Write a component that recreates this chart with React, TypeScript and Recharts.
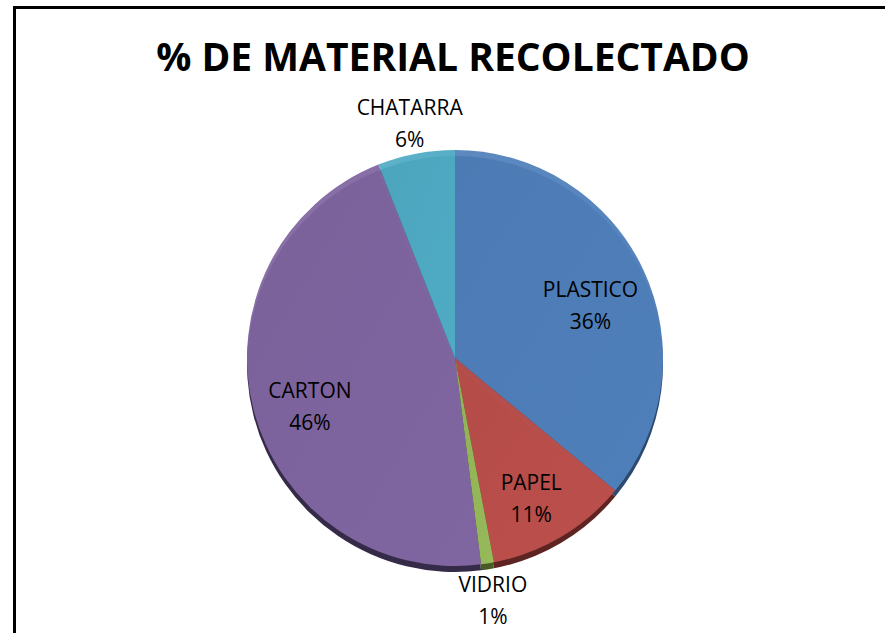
import { PieChart, Pie, Cell } from "recharts";

const materials = ["PLASTICO", "PAPEL", "VIDRIO", "CARTON", "CHATARRA"];
const shares = [36, 11, 1, 46, 6];
const sliceColors = ["#4F7FBA", "#BC4F4B", "#96B95A", "#8066A1", "#4FABC4"];
const edgeColors = ["#2C4A70", "#5E2421", "#485A26", "#352A47", "#2A5F6E"];

const data = materials.map((name, i) => ({ name, value: shares[i] }));

const RAD = Math.PI / 180;

const renderLabel = (props: any) => {
  const { cx, cy, midAngle, outerRadius, name, percent } = props;
  const outside = percent < 0.08;
  const r = outside ? outerRadius + 34 : outerRadius * 0.72;
  const x = cx + r * Math.cos(-midAngle * RAD);
  const y = cy + r * Math.sin(-midAngle * RAD);
  return (
    <text
      x={x}
      y={y}
      textAnchor="middle"
      fill="#000"
      fontSize={21}
      fontFamily="'Open Sans', sans-serif"
    >
      <tspan x={x} dy={outside ? -5 : 3}>
        {name}
      </tspan>
      <tspan x={x} dy={32}>
        {Math.round(percent * 100)}%
      </tspan>
    </text>
  );
};

export default function App() {
  return (
    <div
      style={{
        position: "fixed",
        left: 0,
        top: 0,
        width: 885,
        height: 633,
        background: "#fff",
        overflow: "hidden",
      }}
    >
      <div
        style={{
          position: "absolute",
          left: 13,
          top: 6,
          width: 900,
          height: 700,
          borderLeft: "3px solid #000",
          borderTop: "3px solid #000",
        }}
      />
      <div
        style={{
          position: "absolute",
          left: 0,
          top: 28,
          width: 906,
          textAlign: "center",
          fontFamily: "'Open Sans', sans-serif",
          fontWeight: 700,
          fontSize: 39,
          lineHeight: "56px",
          color: "#000",
        }}
      >
        % DE MATERIAL RECOLECTADO
      </div>
      <div style={{ position: "absolute", left: 0, top: 0 }}>
        <PieChart width={885} height={633} margin={{ top: 0, right: 0, bottom: 0, left: 0 }}>
          <defs>
            {sliceColors.map((c, i) => (
              <linearGradient key={i} id={`g${i}`} x1="0" y1="0" x2="1" y2="1">
                <stop offset="0%" stopColor={c} stopOpacity={0.92} />
                <stop offset="100%" stopColor={c} stopOpacity={1} />
              </linearGradient>
            ))}
          </defs>
          <Pie
            data={data}
            dataKey="value"
            nameKey="name"
            cx={455}
            cy={364}
            outerRadius={208}
            startAngle={90}
            endAngle={-270}
            stroke="none"
            isAnimationActive={false}
          >
            {data.map((_, i) => (
              <Cell key={i} fill={edgeColors[i]} />
            ))}
          </Pie>
          <Pie
            data={data}
            dataKey="value"
            nameKey="name"
            cx={455}
            cy={358}
            outerRadius={208}
            startAngle={90}
            endAngle={-270}
            stroke="none"
            label={renderLabel}
            labelLine={false}
            isAnimationActive={false}
          >
            {data.map((_, i) => (
              <Cell key={i} fill={`url(#g${i})`} />
            ))}
          </Pie>
        </PieChart>
      </div>
    </div>
  );
}
